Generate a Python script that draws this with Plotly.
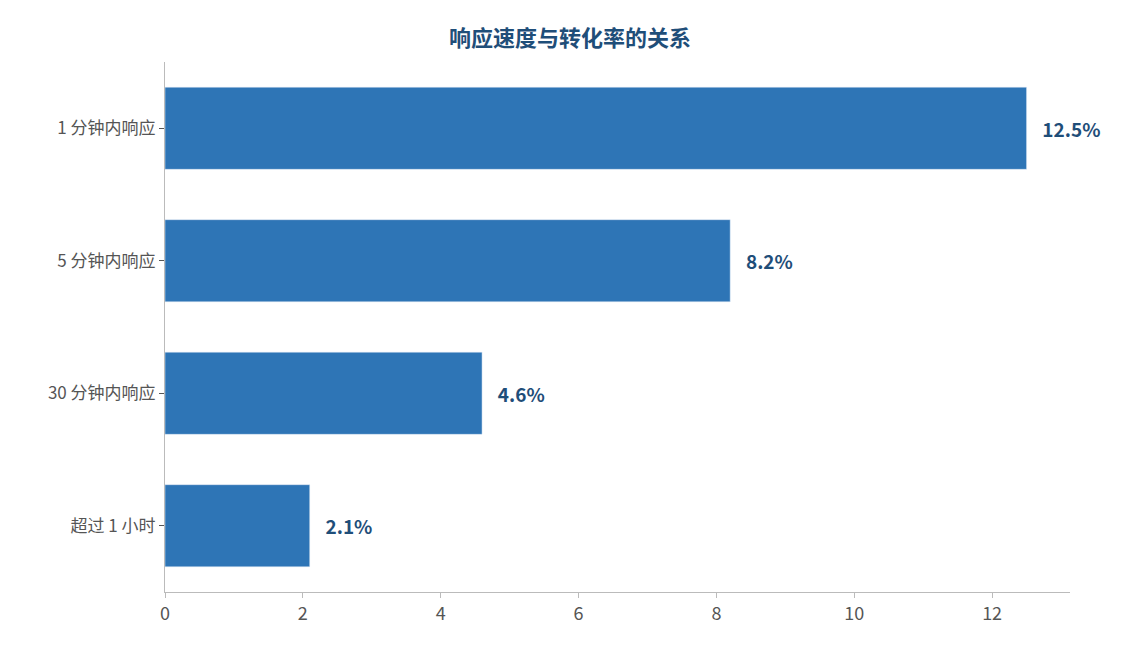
import plotly.graph_objects as go

# 响应时间分组和对应的转化率(%)
categories = ["1 分钟内响应", "5 分钟内响应", "30 分钟内响应", "超过 1 小时"]
rates = [12.5, 8.2, 4.6, 2.1]
labels = [f"   <b>{v}%</b>" for v in rates]

fig = go.Figure(go.Bar(
    x=rates,
    y=categories,
    orientation="h",
    marker_color="#2e75b6",
    text=labels,
    textposition="outside",
    textfont=dict(color="#1f4e79", size=19, family="Noto Sans CJK SC"),
    cliponaxis=False,
))

fig.update_layout(
    width=1124, height=645,
    title=dict(text="<b>响应速度与转化率的关系</b>", x=0.5, y=0.965,
               font=dict(size=22, color="#1f4e79")),
    font=dict(family="Noto Sans CJK SC", color="#555555"),
    plot_bgcolor="white", paper_bgcolor="white",
    margin=dict(l=157, r=62, t=54, b=61),
    bargap=0.38,
    showlegend=False,
)
fig.update_xaxes(range=[0, 13.13], dtick=2, showgrid=False, showline=True,
                 linecolor="#bbbbbb", ticks="outside", tickcolor="#bbbbbb",
                 tickfont=dict(size=18), zeroline=False)
fig.update_yaxes(autorange="reversed", showgrid=False, showline=True,
                 linecolor="#bbbbbb", ticks="outside", tickcolor="#555555",
                 ticklen=5, tickfont=dict(size=17))

fig.write_html("out.html")
